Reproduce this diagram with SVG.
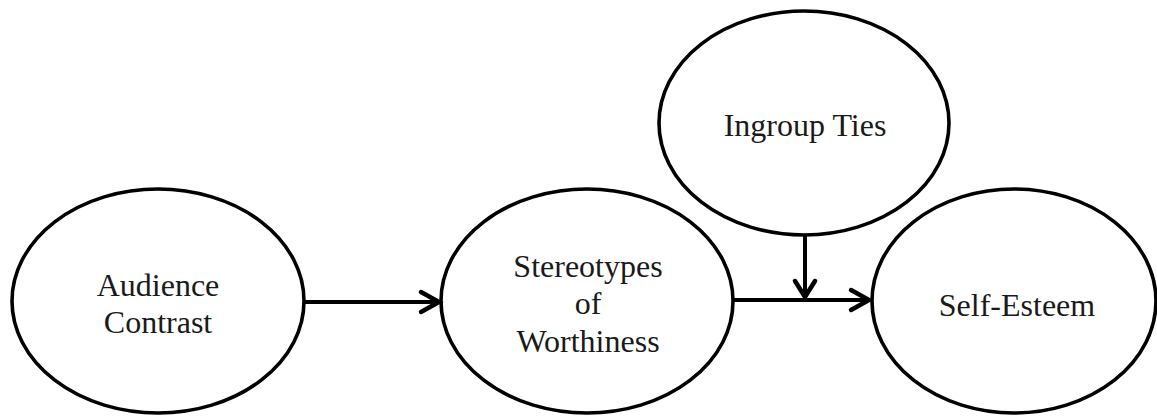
<svg xmlns="http://www.w3.org/2000/svg" width="1157" height="416" viewBox="0 0 1157 416">
<style>
.node{fill:#fff;stroke:#000;stroke-width:3.6}
.lbl{font-family:"Liberation Serif","Times New Roman",serif;font-size:32px;fill:#1a1a1a;text-anchor:middle}
.edge{fill:none;stroke:#000;stroke-width:4}
.head{fill:none;stroke:#000;stroke-width:4.5;stroke-linecap:round;stroke-linejoin:miter}
</style>
<rect width="1157" height="416" fill="#fff"/>
<g id="audience-contrast">
<ellipse class="node" cx="158" cy="301" rx="146" ry="112"/>
<text class="lbl" x="158" y="296">Audience</text>
<text class="lbl" x="158" y="333">Contrast</text>
</g>
<g id="stereotypes">
<ellipse class="node" cx="587" cy="301" rx="146" ry="112"/>
<text class="lbl" x="588" y="277">Stereotypes</text>
<text class="lbl" x="588" y="314">of</text>
<text class="lbl" x="588" y="352">Worthiness</text>
</g>
<g id="ingroup-ties">
<ellipse class="node" cx="804" cy="123" rx="145" ry="112"/>
<text class="lbl" x="805" y="136">Ingroup Ties</text>
</g>
<g id="self-esteem">
<ellipse class="node" cx="1014" cy="301" rx="142" ry="112"/>
<text class="lbl" x="1017" y="316">Self-Esteem</text>
</g>
<g id="connectors">
<line class="edge" x1="304" y1="302" x2="438" y2="302"/>
<polyline class="head" points="421,292 439,302 421,312"/>
<line class="edge" x1="733" y1="300" x2="868" y2="300"/>
<polyline class="head" points="851,290 869,300 851,310"/>
<line class="edge" x1="805" y1="235" x2="805" y2="296"/>
<polyline class="head" points="795,281 805,297 815,281"/>
</g>
</svg>
